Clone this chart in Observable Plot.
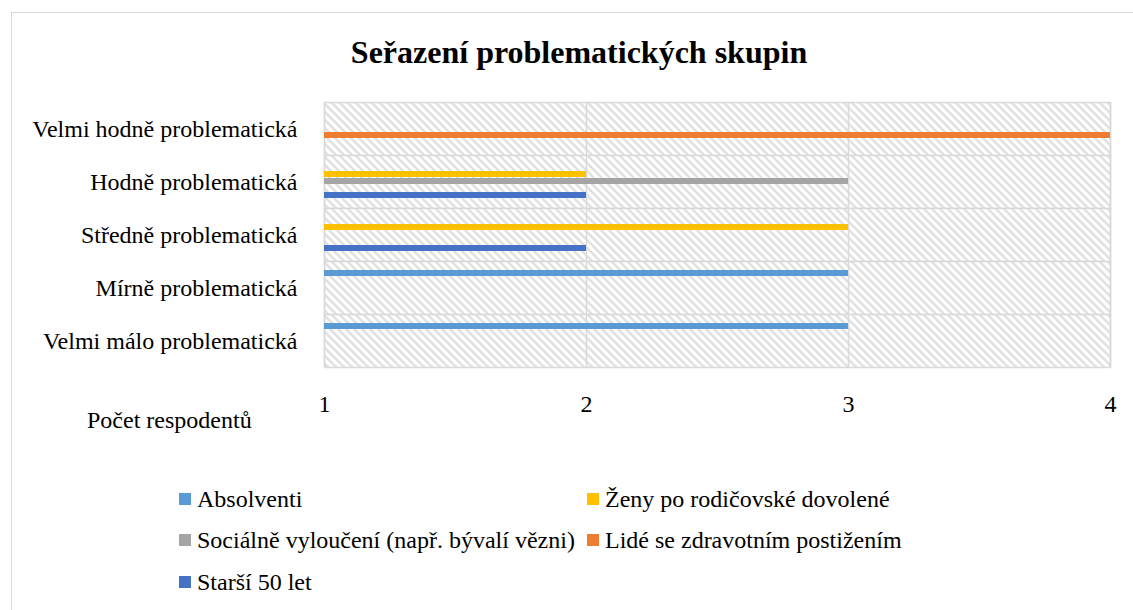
<!DOCTYPE html>
<html>
<head>
<meta charset="utf-8">
<script src="https://cdn.jsdelivr.net/npm/d3@7"></script>
<script src="https://cdn.jsdelivr.net/npm/@observablehq/plot@0.6"></script>
<style>
  html, body { margin: 0; padding: 0; background: #fff; }
  body { width: 1133px; height: 610px; overflow: hidden; position: relative;
         font-family: "Liberation Serif", "Times New Roman", serif; color: #000; }
  #frame { position: absolute; left: 11px; top: 12px; width: 1140px; height: 620px;
           border-left: 1px solid #d9d9d9; border-top: 1px solid #d9d9d9; }
  #title { position: absolute; left: 11px; width: 1136px; top: 36px; text-align: center;
           font-weight: bold; font-size: 32px; line-height: 32px; }
  #chart { position: absolute; left: 0; top: 90px; }
  #xtitle { position: absolute; left: 87px; top: 408px; font-size: 24px; line-height: 24px; }
  .leg { position: absolute; font-size: 24px; line-height: 24px; display: flex; align-items: center; white-space: nowrap; }
  .sw { width: 12px; height: 12px; margin-right: 6px; flex: none; }
</style>
</head>
<body>
<div id="frame"></div>
<div id="title">Seřazení problematických skupin</div>
<div id="chart"></div>
<div id="xtitle">Počet respodentů</div>
<div id="legend"></div>
<script>
// ---- data ----
const categories = [
  "Velmi hodně problematická",
  "Hodně problematická",
  "Středně problematická",
  "Mírně problematická",
  "Velmi málo problematická"
];
const seriesNames = [
  "Absolventi",
  "Ženy po rodičovské dovolené",
  "Sociálně vyloučení (např. bývalí vězni)",
  "Lidé se zdravotním postižením",
  "Starší 50 let"
];
const seriesColors = ["#5B9BD5", "#FFC000", "#A5A5A5", "#ED7D31", "#4472C4"];
// values per category (same order as categories); null = no bar
const absolventi = [null, null, null, 3, 3];
const zeny       = [null, 2, 3, null, null];
const socialne   = [null, 3, null, null, null];
const lide       = [4, null, null, null, null];
const starsi     = [null, 2, 2, null, null];
const xTicks = [1, 2, 3, 4];

const seriesValues = [absolventi, zeny, socialne, lide, starsi];
const data = [];
seriesNames.forEach((s, si) => {
  categories.forEach((c, ci) => {
    const v = seriesValues[si][ci];
    if (v != null) data.push({category: c, series: s, value: v});
  });
});

const chart = Plot.plot({
  width: 1133,
  height: 329,
  marginLeft: 324,
  marginRight: 23,
  marginTop: 11,
  marginBottom: 51,
  style: {fontFamily: '"Liberation Serif", "Times New Roman", serif', fontSize: "24px", color: "#000", background: "transparent", overflow: "visible"},
  x: {domain: [1, 4], ticks: xTicks, tickFormat: d => String(d), tickSize: 0, tickPadding: 27, label: null},
  fy: {domain: categories, padding: 0, axis: "left", tickSize: 0, tickPadding: 27, label: null},
  y: {domain: seriesNames, axis: null, paddingInner: 0.08, paddingOuter: 1.2},
  color: {domain: seriesNames, range: seriesColors},
  marks: [
    Plot.frame({fill: "url(#hatch)", stroke: "#d9d9d9", strokeWidth: 1.5}),
    Plot.ruleX(xTicks, {stroke: "#d9d9d9", strokeWidth: 1.5}),
    Plot.barX(data, {x1: 1, x2: "value", y: "series", fy: "category", fill: "series"})
  ]
});

// hatch pattern definition for the plot-area background
const ns = "http://www.w3.org/2000/svg";
const defs = document.createElementNS(ns, "defs");
defs.innerHTML = '<pattern id="hatch" patternUnits="userSpaceOnUse" width="8" height="8">' +
  '<rect width="8" height="8" fill="#ffffff"/>' +
  '<path d="M-1,-1 L9,9 M-1,7 L1,9 M7,-1 L9,1" stroke="#dadada" stroke-width="2"/>' +
  '</pattern>';
chart.insertBefore(defs, chart.firstChild);
document.getElementById("chart").appendChild(chart);

// legend (two columns, Excel-like order)
const legendPos = [
  {left: 179, top: 487},
  {left: 587, top: 487},
  {left: 179, top: 528},
  {left: 587, top: 528},
  {left: 179, top: 570}
];
const legend = document.getElementById("legend");
seriesNames.forEach((s, i) => {
  const d = document.createElement("div");
  d.className = "leg";
  d.style.left = legendPos[i].left + "px";
  d.style.top = legendPos[i].top + "px";
  const sw = document.createElement("span");
  sw.className = "sw";
  sw.style.background = seriesColors[i];
  d.appendChild(sw);
  d.appendChild(document.createTextNode(s));
  legend.appendChild(d);
});
</script>
</body>
</html>
